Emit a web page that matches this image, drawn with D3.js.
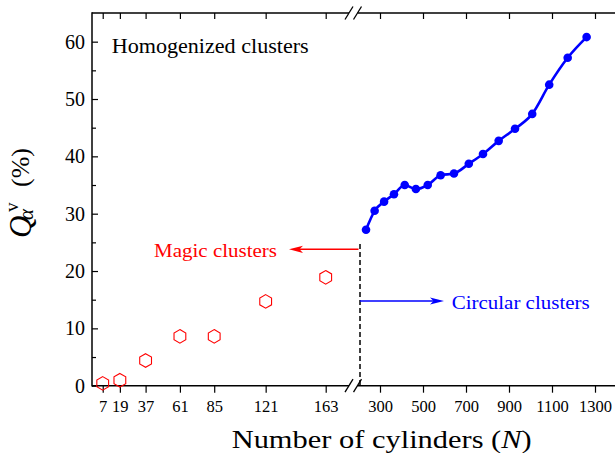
<!DOCTYPE html>
<html><head><meta charset="utf-8">
<script src="https://cdn.jsdelivr.net/npm/d3@7"></script>
<style>
html,body{margin:0;padding:0;background:#fff;}
svg{display:block;}
</style></head>
<body>
<svg id="chart" width="615" height="453"></svg>
<script>
// ---- data ----
const magicN = [7, 19, 37, 61, 85, 121, 163];
const magicQ = [0.4, 0.95, 4.4, 8.6, 8.6, 14.7, 18.9];
const circN = [235, 275, 319, 365, 415, 467, 522, 582, 644, 713, 779, 852, 928, 1008, 1087, 1173, 1261];
const circQ = [27.2, 30.5, 32.1, 33.4, 35.0, 34.3, 35.0, 36.7, 37.0, 38.7, 40.4, 42.7, 44.8, 47.4, 52.5, 57.2, 60.8];
const leftTicks = [7, 19, 37, 61, 85, 121, 163];
const rightTicks = [300, 500, 700, 900, 1100, 1300];
const yTicks = [0, 10, 20, 30, 40, 50, 60];
const yMinor = [5, 15, 25, 35, 45, 55];
const boundaryN = 207;

// ---- layout ----
const FONT = '"Liberation Serif", "Times New Roman", serif';
const W = 615, H = 453;
const mLeft = 92, mTop = 13, mBottom = 385.7;
const breakL = 349, breakR = 357.5;
const svg = d3.select("#chart");

const xL = d3.scaleLinear().domain([-0.5, 163]).range([mLeft, 325.7]);
const xR = d3.scaleLinear().domain([200, 1300]).range([358.5, 595]);
const y = d3.scaleLinear().domain([0, 65]).range([mBottom, mTop]);

function styleAxis(g, fs) {
  g.select(".domain").remove();
  g.selectAll(".tick line").attr("stroke", "#000").attr("stroke-width", 1.2);
  g.selectAll(".tick text").attr("fill", "#000").style("font-size", fs + "px")
    .style("font-family", FONT);
}
const fmt = d3.format("d");

// bottom axes (outward ticks)
svg.append("g").attr("transform", `translate(0,${mBottom})`)
  .call(d3.axisBottom(xL).tickValues(leftTicks).tickFormat(fmt).tickSize(7).tickSizeOuter(0).tickPadding(8))
  .call(g => styleAxis(g, 16.5));
svg.append("g").attr("transform", `translate(0,${mBottom})`)
  .call(d3.axisBottom(xR).tickValues(rightTicks).tickFormat(fmt).tickSize(7).tickSizeOuter(0).tickPadding(8))
  .call(g => styleAxis(g, 16.5));
// top axes (inward ticks)
svg.append("g").attr("transform", `translate(0,${mTop})`)
  .call(d3.axisTop(xL).tickValues(leftTicks).tickSize(-6).tickSizeOuter(0).tickFormat(""))
  .call(g => styleAxis(g, 16));
svg.append("g").attr("transform", `translate(0,${mTop})`)
  .call(d3.axisTop(xR).tickValues(rightTicks).tickSize(-6).tickSizeOuter(0).tickFormat(""))
  .call(g => styleAxis(g, 16));
// left axis (inward ticks)
svg.append("g").attr("transform", `translate(${mLeft},0)`)
  .call(d3.axisLeft(y).tickValues(yTicks).tickFormat(fmt).tickSize(-6).tickSizeOuter(0).tickPadding(7))
  .call(g => styleAxis(g, 20))
  .call(g => g.selectAll(".tick text").attr("dy", "0.33em"));
svg.append("g").attr("transform", `translate(${mLeft},0)`)
  .call(d3.axisLeft(y).tickValues(yMinor).tickSize(-4).tickSizeOuter(0).tickFormat(""))
  .call(g => styleAxis(g, 20));

// axis lines with break
const axG = svg.append("g").attr("stroke", "#000").attr("stroke-width", 1.5).attr("fill", "none");
axG.append("line").attr("x1", mLeft).attr("x2", mLeft).attr("y1", mTop - 0.75).attr("y2", mBottom + 0.75);
[mTop, mBottom].forEach(yy => {
  axG.append("line").attr("x1", mLeft).attr("x2", breakL).attr("y1", yy).attr("y2", yy);
  axG.append("line").attr("x1", breakR).attr("x2", W).attr("y1", yy).attr("y2", yy);
  [breakL, breakR].forEach(bx => {
    axG.append("line").attr("x1", bx - 4).attr("y1", yy + 6.5).attr("x2", bx + 4).attr("y2", yy - 6.5)
      .attr("stroke-width", 1.3);
  });
});

// dashed boundary
svg.append("line").attr("x1", xR(boundaryN)).attr("x2", xR(boundaryN))
  .attr("y1", 244).attr("y2", mBottom)
  .attr("stroke", "#000").attr("stroke-width", 1.5).attr("stroke-dasharray", "5,3");

// magic clusters hexagons
const hexR = 6.8;
const hexPts = d3.range(6).map(k => {
  const a = (-90 + k * 60) * Math.PI / 180;
  return [hexR * Math.cos(a), hexR * Math.sin(a)];
});
const hexPath = "M" + hexPts.map(p => p.join(",")).join("L") + "Z";
svg.append("g").selectAll("path").data(magicN.map((n, i) => [n, magicQ[i]]))
  .join("path")
  .attr("d", hexPath)
  .attr("transform", d => `translate(${xL(d[0])},${y(d[1])})`)
  .attr("fill", "none").attr("stroke", "#ff0000").attr("stroke-width", 1.1);

// circular clusters line
const circData = circN.map((n, i) => [n, circQ[i]]);
svg.append("path").datum(circData)
  .attr("d", d3.line().x(d => xR(d[0])).y(d => y(d[1])).curve(d3.curveMonotoneX))
  .attr("fill", "none").attr("stroke", "#0000ff").attr("stroke-width", 2.6);
svg.append("g").selectAll("circle").data(circData).join("circle")
  .attr("cx", d => xR(d[0])).attr("cy", d => y(d[1])).attr("r", 4.3)
  .attr("fill", "#0000ff");

// arrows
function arrow(x1, x2, yy, color) {
  const dir = Math.sign(x2 - x1);
  const len = 14, hw = 3.6;
  svg.append("line").attr("x1", x1).attr("x2", x2 - dir * len * 0.6).attr("y1", yy).attr("y2", yy)
    .attr("stroke", color).attr("stroke-width", 1.6);
  svg.append("path")
    .attr("d", `M${x2},${yy}L${x2 - dir * len},${yy - hw}L${x2 - dir * len * 0.75},${yy}L${x2 - dir * len},${yy + hw}Z`)
    .attr("fill", color);
}
arrow(xR(boundaryN) - 1.5, 289, 249.3, "#ff0000");
arrow(xR(boundaryN), 444, 301, "#0000ff");

// texts
function label(txt, x, yb, fs, len, color) {
  svg.append("text").attr("x", x).attr("y", yb).style("font-size", fs + "px").style("font-family", FONT)
    .attr("fill", color).attr("textLength", len).attr("lengthAdjust", "spacingAndGlyphs").text(txt);
}
label("Homogenized clusters", 111.7, 53.3, 20, 197, "#000");
label("Magic clusters", 154, 256.7, 19, 123, "#ff0000");
label("Circular clusters", 451.7, 309.3, 19.5, 138, "#0000ff");

// x title
const xt = svg.append("text").attr("x", 231.7).attr("y", 447.5)
  .style("font-size", "26px").style("font-family", FONT)
  .attr("fill", "#000").attr("textLength", 300).attr("lengthAdjust", "spacingAndGlyphs");
xt.append("tspan").text("Number of cylinders (");
xt.append("tspan").style("font-style", "italic").text("N");
xt.append("tspan").text(")");

// y title (rotated)
const yt = svg.append("g").attr("transform", "translate(31,0) rotate(-90)")
  .style("font-family", FONT).attr("fill", "#000");
yt.append("text").attr("x", -238).attr("y", 0).style("font-size", "31px").style("font-style", "italic").text("Q");
yt.append("text").attr("x", -220).attr("y", 2).style("font-size", "21px").style("font-style", "italic").text("α");
yt.append("text").attr("x", -212).attr("y", -13).style("font-size", "19px").text("v");
yt.append("text").attr("x", -187).attr("y", -2).style("font-size", "26px").text("(%)");
</script>
</body></html>
